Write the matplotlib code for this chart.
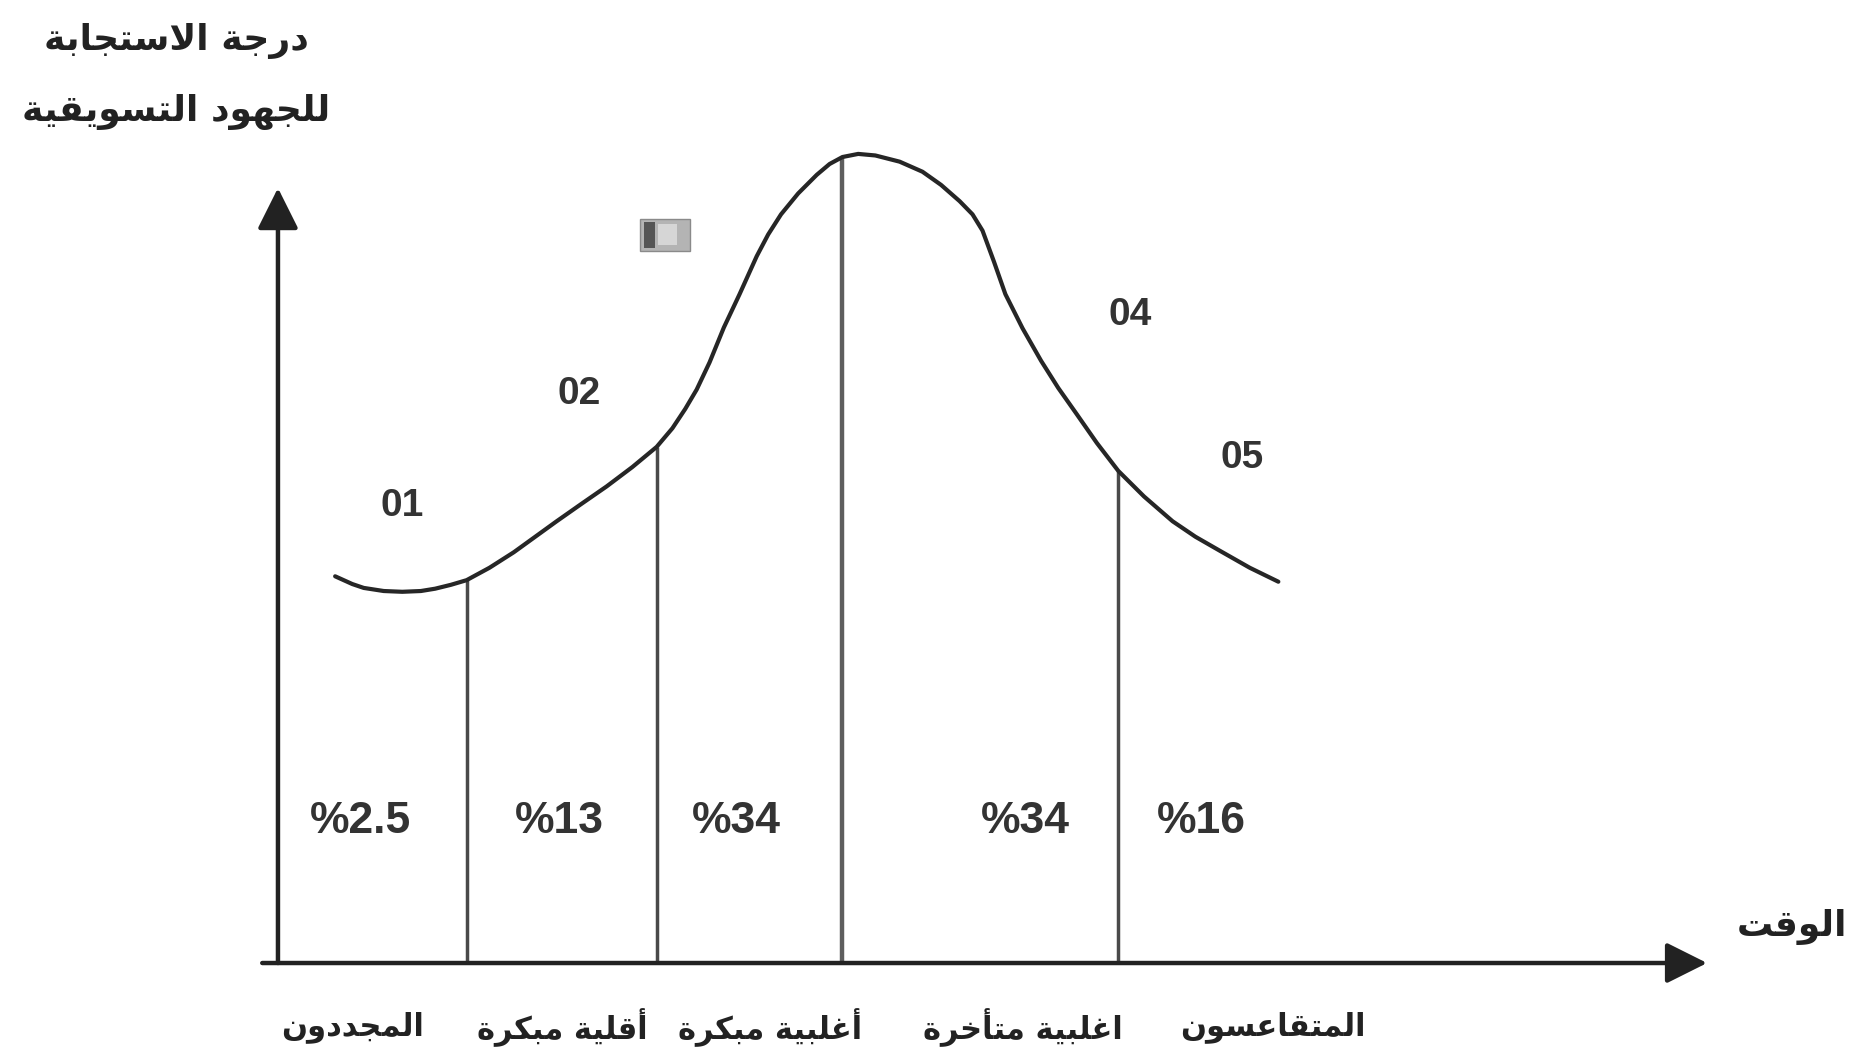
"""Diffusion of innovation curve: adopter categories"""

import matplotlib
matplotlib.use('Agg')
import matplotlib.pyplot as plt
from matplotlib.patches import Rectangle
import numpy as np

# curve (x: time, y: response)
curve_x = [4.0, 5.2, 6.0, 7.4, 8.7, 10.0, 11.0, 12.1, 13.2, 14.8, 16.5, 18.0, 19.5, 21.2,
           23.0, 24.8, 26.5, 27.6, 28.5, 29.3, 30.2, 31.2, 32.3, 33.5, 34.3, 35.2, 36.4,
           37.7, 38.6, 39.5, 40.6, 41.8, 43.5, 45.1, 46.4, 47.7, 48.6, 49.3, 50.1, 50.9,
           52.1, 53.4, 54.6, 55.9, 57.3, 58.8, 60.6, 62.6, 64.2, 65.9, 68.0, 70.0]
curve_y = [49.9, 48.9, 48.4, 48.0, 47.9, 48.0, 48.3, 48.8, 49.4, 51.0, 53.0, 55.0, 57.0, 59.2,
           61.5, 64.0, 66.6, 69.0, 71.5, 74.0, 77.5, 82.0, 86.3, 91.2, 94.0, 96.6, 99.3,
           101.7, 103.1, 104.0, 104.4, 104.2, 103.4, 102.1, 100.4, 98.3, 96.6, 94.5, 90.5, 86.3,
           81.9, 77.7, 74.2, 70.8, 67.1, 63.5, 60.2, 57.0, 55.0, 53.2, 51.0, 49.2]

dividers = [13.2, 26.5, 39.5, 58.8]

y_label = ['درجة الاستجابة', 'للجهود التسويقية']
x_label = 'الوقت'
segments = ['المجددون', 'أقلية مبكرة', 'أغلبية مبكرة', 'اغلبية متأخرة', 'المتقاعسون']
segment_x = [5.2, 19.9, 34.4, 52.1, 69.6]
shares = ['%2.5', '%13', '%34', '%34', '%16']
share_x = [5.8, 19.7, 32.1, 52.3, 64.6]
stage_labels = ['01', '02', '04', '05']
stage_pos = [(8.7, 59.0), (21.1, 73.4), (59.6, 83.6), (67.5, 65.2)]


# matplotlib has no arabic shaping, so pick the presentation forms by hand
FORMS = {
    'ا': (0xFE8D, False), 'أ': (0xFE83, False), 'ب': (0xFE8F, True), 'ة': (0xFE93, False),
    'ت': (0xFE95, True), 'ج': (0xFE9D, True), 'خ': (0xFEA5, True), 'د': (0xFEA9, False),
    'ر': (0xFEAD, False), 'س': (0xFEB1, True), 'ع': (0xFEC9, True), 'غ': (0xFECD, True),
    'ق': (0xFED5, True), 'ك': (0xFED9, True), 'ل': (0xFEDD, True), 'م': (0xFEE1, True),
    'ن': (0xFEE5, True), 'ه': (0xFEE9, True), 'و': (0xFEED, False), 'ي': (0xFEF1, True),
}
LAM_ALEF = {'ا': 0xFEFB, 'أ': 0xFEF7}


def shape(text):
    letters = []
    i = 0
    while i < len(text):
        c = text[i]
        if c == 'ل' and i + 1 < len(text) and text[i + 1] in LAM_ALEF:
            letters.append((LAM_ALEF[text[i + 1]], False))
            i += 2
        elif c in FORMS:
            letters.append(FORMS[c])
            i += 1
        else:
            letters.append((c, None))
            i += 1

    out = []
    for k, (base, dual) in enumerate(letters):
        if dual is None:
            out.append(base)
            continue
        prev = letters[k - 1] if k > 0 else None
        nxt = letters[k + 1] if k + 1 < len(letters) else None
        join_prev = prev is not None and prev[1] is True
        join_next = dual and nxt is not None and nxt[1] is not None
        if join_prev and join_next:
            form = 3
        elif join_prev:
            form = 1
        elif join_next:
            form = 2
        else:
            form = 0
        out.append(chr(base + form))
    return ''.join(reversed(out))


fig = plt.figure(figsize=(18.55, 10.64), dpi=100)
ax = fig.add_axes([0, 0, 1, 1])
ax.set_xlim(-19.45, 110.35)
ax.set_ylim(-13.03, 124.26)
ax.axis('off')

dark = '#222222'
ar_font = dict(family=['DejaVu Sans'], fontweight='bold', color=dark)
num_font = dict(family=['Liberation Sans', 'DejaVu Sans'], fontweight='bold', color='#333333')

# axes with arrow heads
arrow = dict(arrowstyle='-|>,head_length=0.6,head_width=0.3', lw=3.2, color=dark,
             mutation_scale=42, shrinkA=0, shrinkB=0)
ax.annotate('', xy=(100, 0), xytext=(-1.1, 0), arrowprops=arrow)
ax.annotate('', xy=(0, 100), xytext=(0, 0), arrowprops=arrow)

# dividers up to the curve
for i, x in enumerate(dividers):
    top = np.interp(x, curve_x, curve_y)
    ax.plot([x, x], [0, top], color='#4a4a4a' if i != 2 else '#5e5e5e',
            lw=2.5 if i != 2 else 3.2, solid_capstyle='butt', zorder=2)

ax.plot(curve_x, curve_y, color='#262626', lw=3.0, solid_joinstyle='round',
        solid_capstyle='round', zorder=3)

# blurred "03" marker in the source
ax.add_patch(Rectangle((25.3, 91.9), 3.5, 4.1, facecolor='#b4b4b4', edgecolor='#8a8a8a', lw=1))
ax.add_patch(Rectangle((25.6, 92.3), 0.8, 3.3, facecolor='#555555', edgecolor='none'))
ax.add_patch(Rectangle((26.6, 92.6), 1.3, 2.7, facecolor='#d6d6d6', edgecolor='none'))

for lab, (x, y) in zip(stage_labels, stage_pos):
    ax.text(x, y, lab, fontsize=28, ha='center', va='center', **num_font)

for lab, x in zip(shares, share_x):
    ax.text(x, 18.2, lab, fontsize=32, ha='center', va='center', **num_font)

for lab, x in zip(segments, segment_x):
    ax.text(x, -8.3, shape(lab), fontsize=22, ha='center', va='center', **ar_font)

ax.text(109.8, 4.6, shape(x_label), fontsize=26, ha='right', va='center', **ar_font)
ax.text(-7.1, 119.0, shape(y_label[0]), fontsize=26, ha='center', va='center', **ar_font)
ax.text(-7.1, 109.8, shape(y_label[1]), fontsize=26, ha='center', va='center', **ar_font)

fig.savefig('out.png', dpi=100, facecolor='white')
